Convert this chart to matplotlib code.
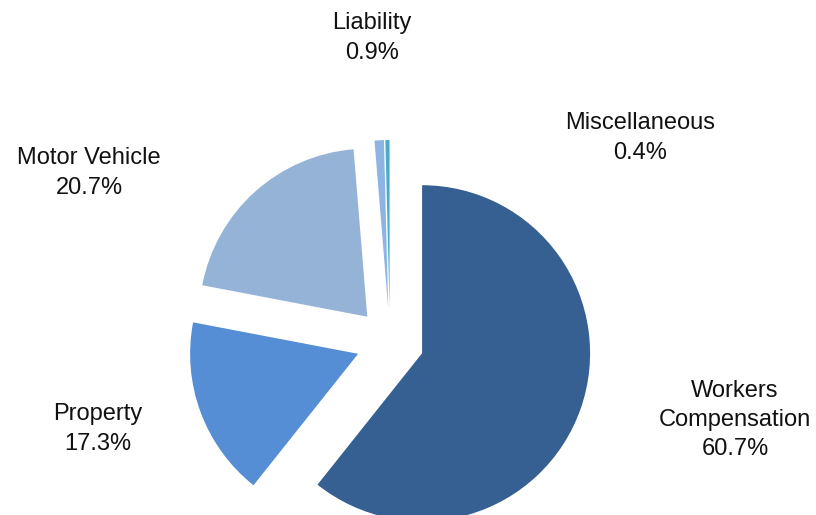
import matplotlib
matplotlib.use("Agg")
import matplotlib.pyplot as plt

# claims cost share by line of coverage
categories = ["Workers\nCompensation", "Property", "Motor Vehicle", "Liability", "Miscellaneous"]
shares = [60.7, 17.3, 20.7, 0.9, 0.4]
colors = ["#376092", "#558ED5", "#95B3D7", "#8EB4E3", "#4BACC6"]

# label anchor points (pixels, origin top-left)
label_xy = [(735, 420), (98, 429), (89, 173), (372, 38), (640, 138)]

W, H = 816, 515
plt.rcParams['font.family'] = ['Liberation Sans', 'DejaVu Sans']

fig = plt.figure(figsize=(W / 100, H / 100), dpi=100)
ax = fig.add_axes([0, 0, 1, 1])
ax.axis('off')

ax.pie(shares, colors=colors, startangle=90, counterclock=False,
       explode=[34] * len(shares), radius=168, center=(390, H - 342),
       wedgeprops=dict(linewidth=0))
ax.set_xlim(0, W)
ax.set_ylim(0, H)

for name, val, (lx, ly) in zip(categories, shares, label_xy):
    ax.text(lx, H - ly, "%s\n%.1f%%" % (name, val), ha='center', va='center',
            fontsize=17, linespacing=1.42, color='#111111')

fig.savefig("out.png", dpi=100)
